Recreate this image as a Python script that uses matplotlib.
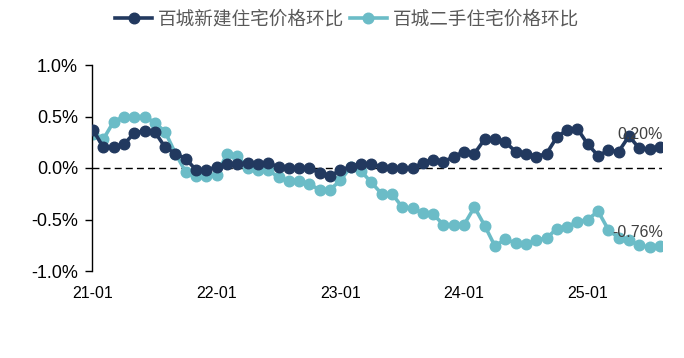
import matplotlib
matplotlib.use("Agg")
import matplotlib.pyplot as plt
import numpy as np

# Monthly data 2021-01 .. 2025-08
months = [f"{y % 100:02d}-{m:02d}" for y in range(2021, 2026) for m in range(1, 13)][:56]
new_home = [0.37, 0.20, 0.20, 0.23, 0.34, 0.36, 0.35, 0.20, 0.14, 0.09,
            -0.02, -0.02, 0.01, 0.04, 0.04, 0.05, 0.04, 0.05, 0.01, 0.00,
            0.00, 0.00, -0.05, -0.08, -0.02, 0.01, 0.04, 0.04, 0.01, 0.00,
            0.00, 0.00, 0.05, 0.08, 0.06, 0.11, 0.16, 0.14, 0.28, 0.28,
            0.25, 0.16, 0.14, 0.11, 0.14, 0.30, 0.37, 0.38, 0.23, 0.12,
            0.17, 0.16, 0.31, 0.19, 0.18, 0.20]
second_home = [0.33, 0.28, 0.45, 0.50, 0.50, 0.50, 0.44, 0.35, 0.14, -0.04,
               -0.08, -0.08, -0.07, 0.14, 0.12, 0.00, -0.02, -0.02, -0.09, -0.13,
               -0.13, -0.16, -0.21, -0.21, -0.12, 0.01, -0.03, -0.14, -0.25, -0.25,
               -0.38, -0.39, -0.44, -0.45, -0.55, -0.55, -0.55, -0.38, -0.56, -0.76,
               -0.69, -0.73, -0.74, -0.70, -0.68, -0.59, -0.57, -0.52, -0.50, -0.42,
               -0.60, -0.68, -0.70, -0.75, -0.77, -0.76]
series_names = ["百城新建住宅价格环比", "百城二手住宅价格环比"]
tick_labels = ["21-01", "22-01", "23-01", "24-01", "25-01"]
yticks = [-1.0, -0.5, 0.0, 0.5, 1.0]

plt.rcParams['font.family'] = ['Liberation Sans', 'DejaVu Sans']

fig = plt.figure(figsize=(6.84, 3.58), dpi=100)
ax = fig.add_axes([92/684, (358-271)/358, 570/684, 206/358])

x = np.arange(len(new_home))
dark = '#22395F'
light = '#6BBCC7'
l1, = ax.plot(x, new_home, color=dark, lw=2.6, marker='o', ms=7.6, label=series_names[0], zorder=3)
l2, = ax.plot(x, second_home, color=light, lw=2.6, marker='o', ms=7.6, label=series_names[1], zorder=2)

ax.axhline(0, color='black', lw=1.0, ls=(0, (5, 3)), zorder=1)

ax.set_xlim(-0.1, 55.2)
ax.set_ylim(-1.0, 1.0)
ax.set_yticks(yticks)
ax.set_yticklabels([f"{v:.1f}%" for v in yticks], fontsize=13)
tick_pos = [months.index(t) for t in tick_labels]
ax.set_xticks(tick_pos)
ax.set_xticklabels(tick_labels, fontsize=11.5)
ax.tick_params(axis='x', length=0, pad=11)
ax.tick_params(axis='y', length=5, width=1, direction='out', pad=5)
for s in ['top', 'right', 'bottom']:
    ax.spines[s].set_visible(False)
ax.spines['left'].set_linewidth(1)

ax.annotate(f"{new_home[-1]:.2f}%", xy=(x[-1], new_home[-1]), xytext=(2, 9),
            textcoords='offset points', ha='right', va='center', fontsize=11.5, color='#404040')
ax.annotate(f"{second_home[-1]:.2f}%", xy=(x[-1], second_home[-1]), xytext=(2, 10),
            textcoords='offset points', ha='right', va='center', fontsize=11.5, color='#404040')

leg = fig.legend(handles=[l1, l2], loc='center', bbox_to_anchor=(347/684, 1 - 20/358), ncol=2,
                 frameon=False, handlelength=2.0, columnspacing=0.3, handletextpad=0.3,
                 prop={'family': ['Noto Sans CJK SC', 'DejaVu Sans'], 'size': 13.4})
for t in leg.get_texts():
    t.set_color('#595959')

fig.savefig('out.png', dpi=100)
